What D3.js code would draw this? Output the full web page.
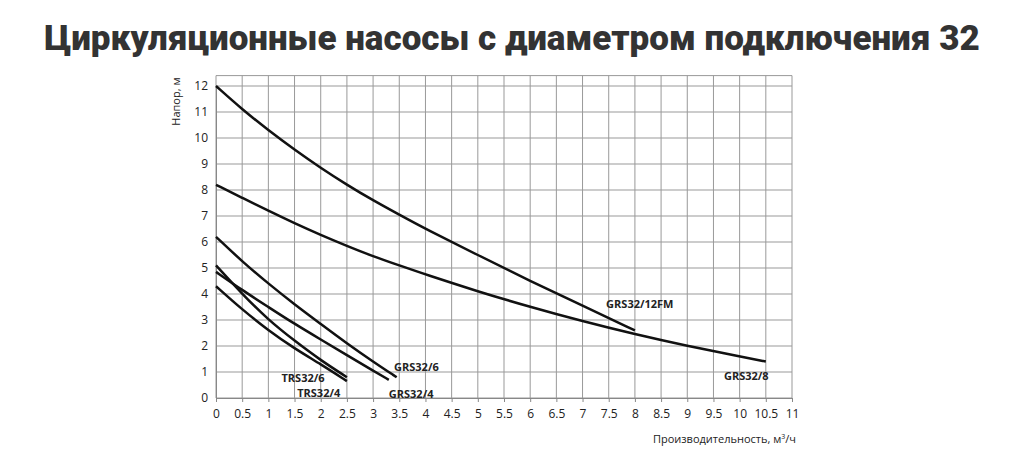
<!DOCTYPE html>
<html><head><meta charset="utf-8">
<script src="https://cdn.jsdelivr.net/npm/d3@7"></script>
<style>body{margin:0;background:#fff;font-family:"Open Sans",sans-serif}</style>
</head><body><svg id="chart" width="1024" height="454"></svg>
<script>
const xTicks = [0,0.5,1,1.5,2,2.5,3,3.5,4,4.5,5,5.5,6,6.5,7,7.5,8,8.5,9,9.5,10,10.5,11];
const yTicks = [0,1,2,3,4,5,6,7,8,9,10,11,12];

const grs12fm = [[0,12],[0.5,11.1],[1,10.3],[1.5,9.55],[2,8.85],[2.5,8.2],[3,7.6],[3.5,7.05],[4,6.5],[5,5.5],[6,4.5],[7,3.55],[8,2.6]];
const grs8 = [[0,8.2],[0.5,7.7],[1,7.2],[1.5,6.72],[2,6.27],[2.5,5.85],[3,5.45],[3.5,5.1],[4,4.75],[5,4.1],[6,3.5],[7,2.95],[8,2.45],[9,2.0],[10,1.6],[10.5,1.4]];
const grs6 = [[0,6.2],[0.5,5.25],[1,4.4],[1.5,3.6],[2,2.85],[2.5,2.1],[3,1.4],[3.45,0.8]];
const grs4 = [[0,4.85],[0.5,4.15],[1,3.5],[1.5,2.85],[2,2.25],[2.5,1.65],[3,1.05],[3.3,0.7]];
const trs6 = [[0,5.1],[0.5,4.0],[1,3.0],[1.5,2.2],[2,1.45],[2.5,0.8]];
const trs4 = [[0,4.3],[0.5,3.4],[1,2.6],[1.5,1.9],[2,1.3],[2.5,0.65]];
const labels = [
  {text:"GRS32/12FM", x:7.45, y:3.45},
  {text:"GRS32/8", x:9.7, y:0.7},
  {text:"GRS32/6", x:3.4, y:1.05},
  {text:"GRS32/4", x:3.3, y:0.0},
  {text:"TRS32/6", x:1.25, y:0.6},
  {text:"TRS32/4", x:1.55, y:0.05}
];

const svg = d3.select("#chart");
svg.append("text").attr("x", 512).attr("y", 50).attr("text-anchor", "middle")
  .style("font-family", "Roboto").style("font-weight", "900").style("font-size", "35px")
  .attr("fill", "#333").text("Циркуляционные насосы с диаметром подключения 32");

const x = d3.scaleLinear().domain([0, 11]).range([216, 792]);
const y = d3.scaleLinear().domain([0, 12]).range([398, 86]);
const g = svg.append("g");

// grid
g.selectAll(".vx").data(xTicks).enter().append("line")
  .attr("x1", d => x(d)).attr("x2", d => x(d)).attr("y1", y(12.4)).attr("y2", y(0))
  .attr("stroke", "#999").attr("stroke-width", 1);
g.selectAll(".hy").data(yTicks.concat([12.4])).enter().append("line")
  .attr("x1", x(0)).attr("x2", x(11)).attr("y1", d => y(d)).attr("y2", d => y(d))
  .attr("stroke", "#999").attr("stroke-width", 1);

const xAxis = g.append("g").attr("transform", `translate(0,${y(0)})`)
  .call(d3.axisBottom(x).tickValues(xTicks).tickFormat(d => String(d)).tickSize(4));
const yAxis = g.append("g").attr("transform", `translate(${x(0)},0)`)
  .call(d3.axisLeft(y).tickValues(yTicks).tickSize(0).tickPadding(8));
[xAxis, yAxis].forEach(a => {
  a.select(".domain").attr("stroke", "#888");
  a.selectAll("line").attr("stroke", "#888");
  a.selectAll("text").style("font-family", "Open Sans").style("font-size", "12px").attr("fill", "#222");
});
xAxis.selectAll("text").attr("dy", "1.1em");

svg.append("text").attr("transform", `translate(180,${y(11.4)}) rotate(-90)`)
  .attr("text-anchor", "middle").style("font-size", "11px").attr("fill", "#222").text("Напор, м");
svg.append("text").attr("x", 796).attr("y", 443).attr("text-anchor", "end")
  .style("font-size", "11px").attr("fill", "#222").html("Производительность, м<tspan dy='-4' font-size='7'>3</tspan><tspan dy='4'>/ч</tspan>");

const line = d3.line().x(d => x(d[0])).y(d => y(d[1])).curve(d3.curveBasis);
[grs12fm, grs8, grs6, grs4, trs6, trs4].forEach(s => {
  g.append("path").attr("d", line(s)).attr("fill", "none").attr("stroke", "#111").attr("stroke-width", 2.5);
});
g.selectAll(".lbl").data(labels).enter().append("text")
  .attr("x", d => x(d.x)).attr("y", d => y(d.y)).style("font-size", "11px")
  .style("font-weight", "bold").attr("fill", "#222").text(d => d.text);
</script></body></html>
